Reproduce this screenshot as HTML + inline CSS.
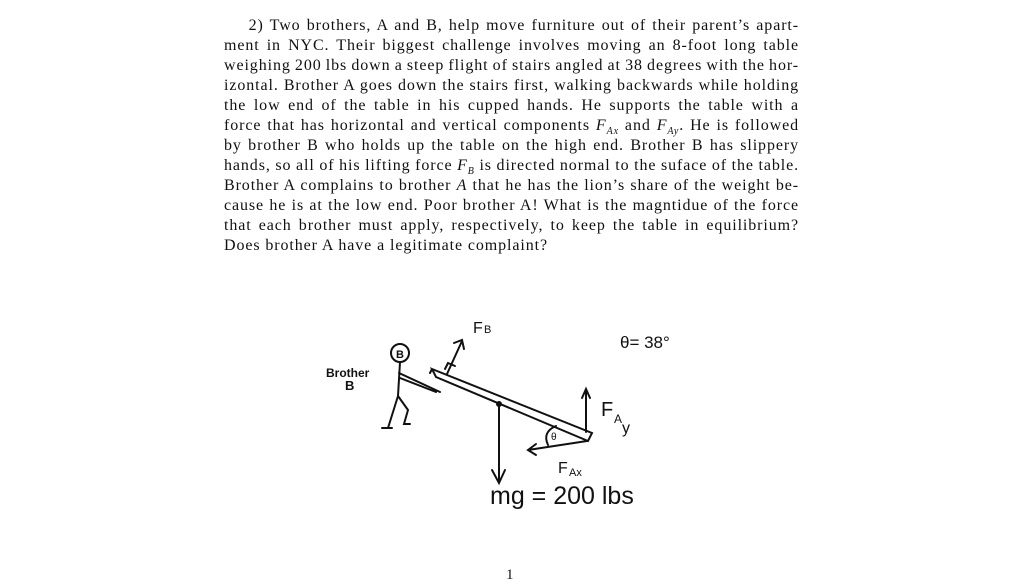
<!DOCTYPE html>
<html><head><meta charset="utf-8"><style>
body{margin:0;background:#fff;width:1024px;height:586px;overflow:hidden;position:relative;font-family:"Liberation Serif",serif;color:#111}
.t{position:absolute;left:224px;width:575px;top:16px;font-size:16px;letter-spacing:0.9px;line-height:20px}
.t div{text-align:justify;text-align-last:justify;white-space:nowrap;height:20px;word-spacing:-2px}
.t div.l{text-align-last:left;word-spacing:0}
i{font-style:italic}
sub{font-size:10px;line-height:0}
</style></head><body>
<div class="t">
<div>&nbsp;&nbsp;&nbsp;&nbsp;2) Two brothers, A and B, help move furniture out of their parent’s apart-</div>
<div>ment in NYC. Their biggest challenge involves moving an 8-foot long table</div>
<div>weighing 200 lbs down a steep flight of stairs angled at 38 degrees with the hor-</div>
<div>izontal. Brother A goes down the stairs first, walking backwards while holding</div>
<div>the low end of the table in his cupped hands. He supports the table with a</div>
<div>force that has horizontal and vertical components <i>F<sub>Ax</sub></i> and <i>F<sub>Ay</sub></i>. He is followed</div>
<div>by brother B who holds up the table on the high end. Brother B has slippery</div>
<div>hands, so all of his lifting force <i>F<sub>B</sub></i> is directed normal to the suface of the table.</div>
<div>Brother A complains to brother <i>A</i> that he has the lion’s share of the weight be-</div>
<div>cause he is at the low end. Poor brother A! What is the magntidue of the force</div>
<div>that each brother must apply, respectively, to keep the table in equilibrium?</div>
<div class="l">Does brother A have a legitimate complaint?</div>
</div>
<svg width="1024" height="586" style="position:absolute;left:0;top:0" fill="none" stroke="#111" stroke-width="2" stroke-linecap="round" font-family="Liberation Sans,sans-serif">
<circle cx="400" cy="353" r="9"/>
<text x="396" y="358" font-size="11" fill="#111" stroke="none" font-weight="bold">B</text>
<path d="M400 362 L398 396 M398 396 L388 428 M382 428 L392 428 M398 396 L408 410 L404 424 L410 424 M399 373 L440 392 M400 378 L436 392"/>
<text x="326" y="377" font-size="12" fill="#111" stroke="none" font-weight="bold">Brother</text>
<text x="345" y="390" font-size="13" fill="#111" stroke="none" font-weight="bold">B</text>
<path d="M432 369 L592 433 L588 441 L436 377 Z M432 369 L430 373"/>
<path d="M447 374 L462 341 M454 343 L462 340 L464 349 M445 369 L448 363 L455 366"/>
<text x="473" y="333" font-size="16" fill="#111" stroke="none">F</text>
<text x="484" y="333" font-size="11" fill="#111" stroke="none">B</text>
<text x="620" y="348" font-size="17" fill="#111" stroke="none">θ= 38°</text>
<path d="M499 404 L499 482 M492 470 L499 483 L505 470"/>
<circle cx="499" cy="404" r="2" fill="#111"/>
<text x="490" y="504" font-size="25" fill="#111" stroke="none">mg = 200 lbs</text>
<path d="M586 432 L586 390 M582 398 L586 389 L590 398"/>
<text x="601" y="416" font-size="20" fill="#111" stroke="none">F</text>
<text x="614" y="423" font-size="12" fill="#111" stroke="none">A</text>
<text x="622" y="433" font-size="16" fill="#111" stroke="none">y</text>
<path d="M587 441 L528 450 M536 444 L528 450 L536 455"/>
<path d="M556 426 Q542 432 548 445" />
<text x="551" y="440" font-size="10" fill="#111" stroke="none">θ</text>
<text x="558" y="473" font-size="16" fill="#111" stroke="none">F</text>
<text x="569" y="476" font-size="11" fill="#111" stroke="none">Ax</text>
</svg>
<div style="position:absolute;left:506px;top:567px;font-size:15px">1</div>
</body></html>
